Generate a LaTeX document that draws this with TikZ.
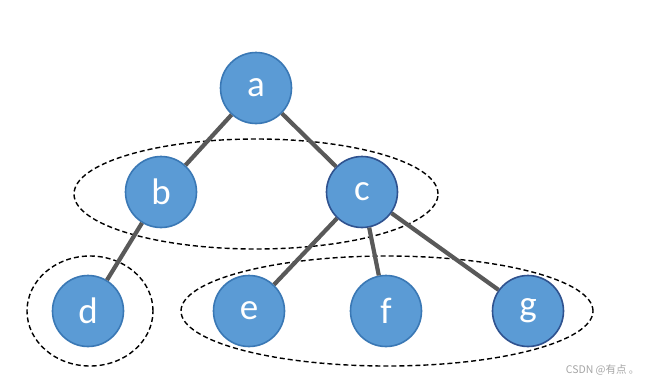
\documentclass[tikz,border=0pt]{standalone}
\usepackage{fontspec}
\setmainfont{Carlito}
\newfontfamily\cjk{Noto Sans CJK SC}
\usetikzlibrary{shapes.geometric}
\definecolor{nodefill}{HTML}{5B9BD5}
\definecolor{nodeborder}{HTML}{3A78B5}
\definecolor{nodeborderdark}{HTML}{2F528F}
\definecolor{edgegray}{HTML}{595959}
\tikzset{
  vertex/.style={circle, fill=nodefill, draw=nodeborder, line width=1.6pt, minimum size=71pt, inner sep=0pt, text=white, font=\fontsize{37}{37}\selectfont},
  darkvertex/.style={vertex, draw=nodeborderdark},
  edge/.style={draw=edgegray, line width=4.2pt},
  group/.style={ellipse, draw=black, line width=1.4pt, inner sep=0pt, dash pattern=on 5pt off 3pt}
}
\begin{document}
\begin{tikzpicture}[x=1pt,y=-1pt]
\useasboundingbox (0,0) rectangle (656,384);
\fill[white] (0,0) rectangle (656,384);
% groups
\node[group, minimum width=364pt, minimum height=110pt] (g1) at (256,194) {};
\node[group, minimum width=126pt, minimum height=110pt] (g2) at (90,311) {};
\node[group, minimum width=412pt, minimum height=110pt] (g3) at (387,311) {};
% vertices
\node[vertex] (a) at (256,88) {a};
\node[vertex] (b) at (161,192) {b};
\node[darkvertex] (c) at (362,192) {c};
\node[vertex] (d) at (88,311) {d};
\node[vertex] (e) at (249,311) {e};
\node[vertex] (f) at (386,311) {f};
\node[darkvertex] (g) at (528,311) {g};
% edges
\draw[edge] (a) -- (b);
\draw[edge] (a) -- (c);
\draw[edge] (b) -- (d);
\draw[edge] (c) -- (e);
\draw[edge] (c) -- (f);
\draw[edge] (c) -- (g);
\node[text=black!35, font=\cjk\fontsize{10.5}{10.5}\selectfont, anchor=east] (wm) at (643,370) {CSDN @有点 。};
\end{tikzpicture}
\end{document}
